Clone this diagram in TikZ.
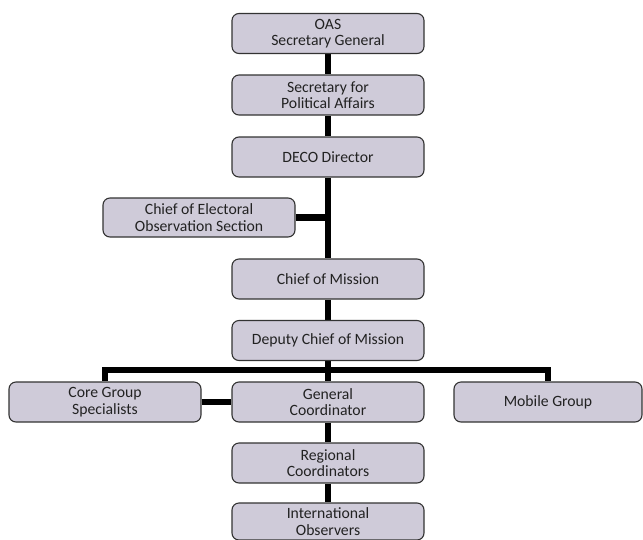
\documentclass[tikz,border=0pt]{standalone}
\usepackage{fontspec}
\setmainfont{Carlito}
\usetikzlibrary{backgrounds}
\definecolor{boxfill}{HTML}{CFCBD9}
\definecolor{boxline}{HTML}{333333}
\definecolor{txt}{HTML}{222222}
\begin{document}
\begin{tikzpicture}[x=1pt,y=-1pt,
  orgbox/.style={draw=boxline,line width=1.1pt,fill=boxfill,rounded corners=7pt,
    minimum width=192pt,minimum height=40pt,inner sep=1pt,align=center,
    text=txt,font=\fontsize{15.7}{16.5}\selectfont},
  link/.style={draw=black,line width=6.5pt}]
\useasboundingbox (0,0) rectangle (643,539);
\node[orgbox] (oas) at (328,33.5) {OAS\\Secretary General};
\node[orgbox] (spa) at (328,95) {Secretary for\\Political Affairs};
\node[orgbox] (deco) at (328,157) {DECO Director};
\node[orgbox,minimum height=39pt] (ceos) at (199,217.5) {Chief of Electoral\\Observation Section};
\node[orgbox] (com) at (328,279) {Chief of Mission};
\node[orgbox] (dcom) at (328,340.5) {Deputy Chief of Mission};
\node[orgbox] (core) at (105,402) {Core Group\\Specialists};
\node[orgbox] (gc) at (328,402) {General\\Coordinator};
\node[orgbox,minimum width=188pt] (mob) at (548,402) {Mobile Group};
\node[orgbox] (rc) at (328,463) {Regional\\Coordinators};
\node[orgbox,minimum height=37pt] (io) at (328,521.5) {International\\Observers};
\coordinate (bar) at (328,370);
\begin{scope}[on background layer]
\draw[link] (oas) -- (spa);
\draw[link] (spa) -- (deco);
\draw[link] (deco) -- (com);
\draw[link] (ceos.east) -- (ceos.east -| deco);
\draw[link] (com) -- (dcom);
\draw[link] (dcom) -- (gc);
\draw[link] (core.north) |- (bar) -| (mob.north);
\draw[link] (core) -- (gc);
\draw[link] (gc) -- (rc);
\draw[link] (rc) -- (io);
\end{scope}
\end{tikzpicture}
\end{document}
